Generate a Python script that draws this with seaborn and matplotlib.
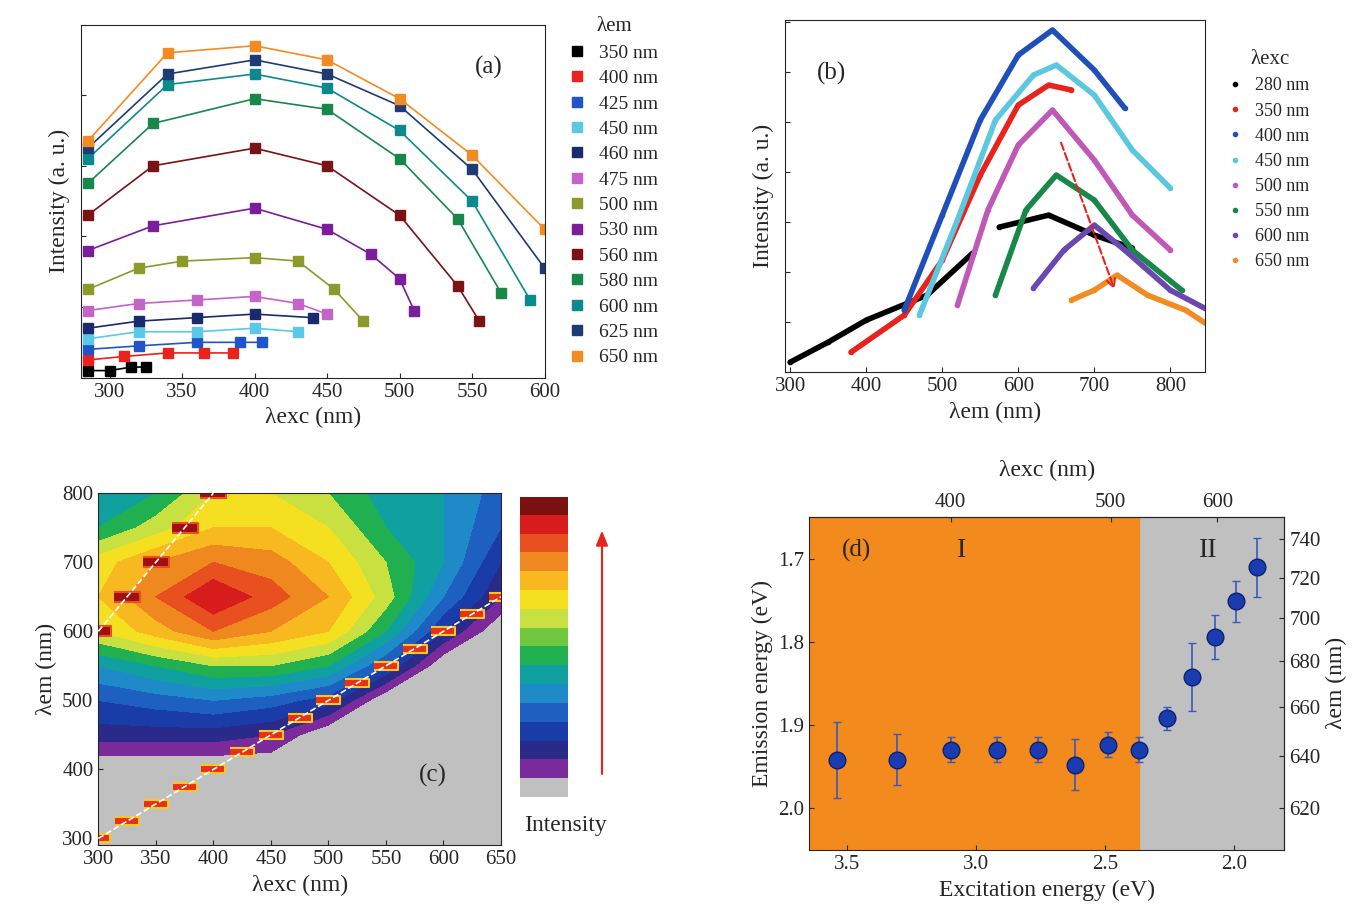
import numpy as np
import matplotlib.pyplot as plt
import seaborn as sns
from matplotlib.colors import ListedColormap

sns.set_style("ticks")
plt.rcParams['font.family'] = ['Liberation Serif', 'DejaVu Serif']
plt.rcParams['font.size'] = 15
plt.rcParams['xtick.direction'] = 'in'
plt.rcParams['ytick.direction'] = 'in'

# ---------- (a) excitation spectra ----------
a_names = ['350 nm', '400 nm', '425 nm', '450 nm', '460 nm', '475 nm', '500 nm',
           '530 nm', '560 nm', '580 nm', '600 nm', '625 nm', '650 nm']
a_colors = ['#000000', '#e8221c', '#1f55c8', '#5cc8e8', '#1a2a6c', '#c464c8', '#8c9a2c',
            '#7a1e9a', '#7a1414', '#18884a', '#0a8a8c', '#203a74', '#f28c22']
a_x = [[285, 300, 315, 325],
       [285, 310, 340, 365, 385],
       [285, 320, 360, 390, 405],
       [285, 320, 360, 400, 430],
       [285, 320, 360, 400, 440],
       [285, 320, 360, 400, 430, 450],
       [285, 320, 350, 400, 430, 455, 475],
       [285, 330, 400, 450, 480, 500, 510],
       [285, 330, 400, 450, 500, 540, 555],
       [285, 330, 400, 450, 500, 540, 570],
       [285, 340, 400, 450, 500, 550, 590],
       [285, 340, 400, 450, 500, 550, 600],
       [285, 340, 400, 450, 500, 550, 600]]
a_y = [[2, 2, 3, 3],
       [5, 6, 7, 7, 7],
       [8, 9, 10, 10, 10],
       [11, 13, 13, 14, 13],
       [14, 16, 17, 18, 17],
       [19, 21, 22, 23, 21, 18],
       [25, 31, 33, 34, 33, 25, 16],
       [36, 43, 48, 42, 35, 28, 19],
       [46, 60, 65, 60, 46, 26, 16],
       [55, 72, 79, 76, 62, 45, 24],
       [62, 83, 86, 82, 70, 50, 22],
       [65, 86, 90, 86, 77, 59, 31],
       [67, 92, 94, 90, 79, 63, 42]]

# ---------- (b) emission spectra ----------
b_names = ['280 nm', '350 nm', '400 nm', '450 nm', '500 nm', '550 nm', '600 nm', '650 nm']
b_colors = ['#000000', '#e8221c', '#1f4fb8', '#5cc8e0', '#c058b8', '#18884a', '#6a48b0', '#f28c22']
b_x = [[300, 350, 400, 480, 540, np.nan, 575, 640, 700, 750],
       [380, 450, 500, 550, 600, 640, 670],
       [450, 500, 550, 600, 645, 700, 740],
       [470, 520, 570, 620, 650, 700, 750, 800],
       [520, 560, 600, 645, 700, 750, 800],
       [570, 610, 650, 700, 750, 815],
       [620, 660, 700, 740, 800, 850],
       [670, 700, 730, 770, 820, 850]]
b_y = [[10, 30, 52, 77, 119, np.nan, 145, 157, 137, 124],
       [20, 57, 112, 197, 267, 287, 282],
       [62, 157, 252, 317, 342, 302, 264],
       [57, 152, 252, 297, 307, 277, 222, 184],
       [67, 162, 227, 262, 212, 157, 122],
       [77, 162, 197, 172, 122, 82],
       [84, 122, 147, 122, 82, 62],
       [72, 82, 97, 77, 62, 47]]

# ---------- (c) excitation-emission map ----------
c_exc = [300, 350, 400, 450, 500, 550, 600, 650]
c_em = [300, 350, 400, 450, 500, 550, 600, 650, 700, 750, 800]
c_int = [[0, 0, 0, 0, 0, 0, 0, 0],
         [0, 0, 0, 0, 0, 0, 0, 0],
         [0, 0, 0, 0, 0, 0, 0, 0],
         [2.5, 2.5, 2.5, 2, 0, 0, 0, 0],
         [4, 4.5, 5, 4.5, 3.5, 0, 0, 0],
         [6, 7, 8, 8, 7, 4, 0, 0],
         [9, 10.5, 12, 11, 10, 7, 3, 0],
         [10, 12, 14, 12.5, 11, 8.5, 5, 2],
         [9.5, 11, 12, 11.5, 10, 8, 6, 3],
         [7, 8.5, 10, 10, 9, 7, 6, 4],
         [6, 7, 9, 9, 8, 6.5, 6, 4.5]]
c_colors = ['#c0c0c0', '#7a2a9a', '#2a2a8a', '#1a3ca8', '#1e60c0', '#1e8ac8', '#10a0a0',
            '#20b050', '#70c840', '#c8e040', '#f4e020', '#f8b820', '#f08820', '#e85020',
            '#d81c1c', '#7a1010']
scatter_exc = [300, 325, 350, 375, 400, 425, 450, 475, 500, 525, 550, 575, 600, 625, 650]

# ---------- (d) energies ----------
d_exc_ev = [3.539, 3.306, 3.097, 2.919, 2.760, 2.616, 2.488, 2.368, 2.260, 2.163, 2.074, 1.992, 1.911]
d_em_ev = [1.942, 1.942, 1.930, 1.930, 1.930, 1.948, 1.924, 1.930, 1.892, 1.842, 1.794, 1.751, 1.710]
d_err = [0.046, 0.031, 0.015, 0.015, 0.015, 0.031, 0.015, 0.015, 0.014, 0.041, 0.027, 0.025, 0.036]

fig = plt.figure(figsize=(13.65, 9.1), dpi=100)

# (a)
ax = fig.add_axes([0.059, 0.585, 0.34, 0.388])
for name, col, xs, ys in zip(a_names, a_colors, a_x, a_y):
    ax.plot(xs, ys, ls='-', lw=1.2, marker='s', ms=7, color=col, label=name)
ax.set_xlim(280, 600)
ax.set_ylim(0, 100)
ax.set_yticklabels([])
ax.set_xticks([300, 350, 400, 450, 500, 550, 600])
ax.set_xlabel('λexc (nm)', fontsize=17)
ax.set_ylabel('Intensity (a. u.)', fontsize=17)
ax.text(0.88, 0.86, '(a)', transform=ax.transAxes, fontsize=18, ha='center')
leg = ax.legend(loc='upper left', bbox_to_anchor=(1.02, 1.07), frameon=False, title='λem',
                handlelength=0.6, fontsize=14, labelspacing=0.4)
for h in leg.legend_handles:
    h.set_linestyle('')

# (b)
ax = fig.add_axes([0.575, 0.591, 0.308, 0.387])
for name, col, xs, ys in zip(b_names, b_colors, b_x, b_y):
    ax.plot(xs, ys, ls='-', lw=4, marker='o', ms=3, color=col, label=name)
ax.annotate('', xy=(728, 80), xytext=(655, 232),
            arrowprops=dict(arrowstyle='->', color='#e8221c', ls='--', lw=1.5))
ax.set_xlim(293, 846)
ax.set_ylim(0, 352)
ax.set_yticklabels([])
ax.set_xticks([300, 400, 500, 600, 700, 800])
ax.set_xlabel('λem (nm)', fontsize=17)
ax.set_ylabel('Intensity (a. u.)', fontsize=17)
ax.text(0.11, 0.83, '(b)', transform=ax.transAxes, fontsize=18, ha='center')
leg = ax.legend(loc='upper left', bbox_to_anchor=(1.02, 0.96), frameon=False, title='λexc',
                handlelength=0.6, fontsize=13, labelspacing=0.45)
for h in leg.legend_handles:
    h.set_linestyle('')

# (c)
ax = fig.add_axes([0.072, 0.071, 0.295, 0.387])
ax.set_facecolor('#c0c0c0')
cmap = ListedColormap(c_colors[1:])
levels = np.arange(1, 16)
ax.contourf(c_exc, c_em, np.array(c_int), levels=levels, cmap=cmap, extend='max')
exc = np.array(scatter_exc)
rect = [(-2.2, -0.8), (2.2, -0.8), (2.2, 0.8), (-2.2, 0.8)]
ax.scatter(exc, exc, marker=rect, s=300, color='#e83018', edgecolor='#f8c820', lw=1.5, zorder=2)
ax.scatter(exc[:5], 2 * exc[:5], marker=rect, s=330, color='#a01010', edgecolor='#e85020', lw=1.5, zorder=2)
ax.plot(exc, exc, ls='--', color='white', lw=1.2, zorder=3)
ax.plot(exc[:5], 2 * exc[:5], ls='--', color='white', lw=1.2, zorder=3)
ax.set_xlim(300, 650)
ax.set_ylim(290, 800)
ax.set_xticks([300, 350, 400, 450, 500, 550, 600, 650])
ax.set_yticks([300, 400, 500, 600, 700, 800])
ax.set_xlabel('λexc (nm)', fontsize=17)
ax.set_ylabel('λem (nm)', fontsize=17)
ax.text(0.83, 0.18, '(c)', transform=ax.transAxes, fontsize=18, ha='center')

cax = fig.add_axes([0.381, 0.124, 0.035, 0.33])
cax.imshow(np.arange(len(c_colors))[::-1].reshape(-1, 1), cmap=ListedColormap(c_colors), aspect='auto')
cax.set_xticks([])
cax.set_yticks([])
for s in cax.spines.values():
    s.set_visible(False)
fig.text(0.414, 0.087, 'Intensity', ha='center', fontsize=17)
fig.add_artist(plt.Line2D([0.441, 0.441], [0.15, 0.41], color='#e8221c', lw=1.5))
fig.patches.append(plt.Polygon([[0.437, 0.40], [0.445, 0.40], [0.441, 0.415]],
                               closed=True, color='#e8221c', transform=fig.transFigure))

# (d)
ax = fig.add_axes([0.593, 0.066, 0.348, 0.366])
ax.set_facecolor('#c0c0c0')
ax.axvspan(3.647, 2.368, color='#f28a1e', zorder=0)
ax.errorbar(d_exc_ev, d_em_ev, yerr=d_err, fmt='o', ms=12, color='#1a3cb0', mec='#0a2070',
            ecolor='#3a58c0', elinewidth=1.2, capsize=3, zorder=3)
ax.set_xlim(3.647, 1.806)
ax.set_ylim(2.051, 1.649)
ax.set_xticks([3.5, 3.0, 2.5, 2.0])
ax.set_yticks([1.7, 1.8, 1.9, 2.0])
ax.set_xlabel('Excitation energy (eV)', fontsize=17)
ax.set_ylabel('Emission energy (eV)', fontsize=17)
ax.text(0.1, 0.88, '(d)', transform=ax.transAxes, fontsize=18, ha='center')
ax.text(0.32, 0.88, 'I', transform=ax.transAxes, fontsize=20, ha='center')
ax.text(0.84, 0.88, 'II', transform=ax.transAxes, fontsize=20, ha='center')
top = ax.secondary_xaxis('top', functions=(lambda e: 1240 / e, lambda l: 1240 / l))
top.set_xticks([400, 500, 600])
top.set_xlabel('λexc (nm)', fontsize=17, labelpad=12)
right = ax.secondary_yaxis('right', functions=(lambda e: 1240 / e, lambda l: 1240 / l))
right.set_yticks([620, 640, 660, 680, 700, 720, 740])
right.set_ylabel('λem (nm)', fontsize=17)

fig.savefig('out.png', dpi=100)
